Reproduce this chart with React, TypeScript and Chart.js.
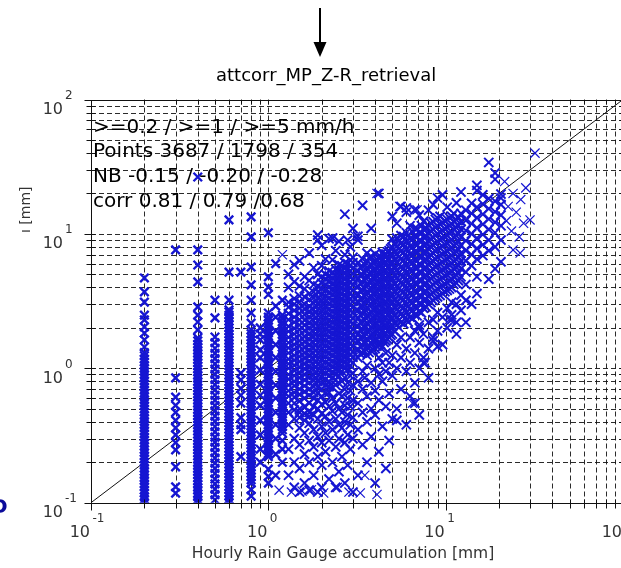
import React, { useEffect, useRef } from "react";
import { Chart, registerables } from "chart.js";
Chart.register(...registerables);

const CANVAS_W = 640;
const CANVAS_H = 568;

// ---- axis ticks ----
const decadeTicks = [0.1, 1, 10, 100];
const decadeExponents = ["-1", "0", "1", "2"];
const minorTicks = [0.2, 0.3, 0.4, 0.5, 0.6, 0.7, 0.8, 0.9, 2, 3, 4, 5, 6, 7, 8, 9, 20, 30, 40, 50, 60, 70, 80, 90];

// ---- texts ----
const titleText = "attcorr_MP_Z-R_retrieval";
const xTitle = "Hourly Rain Gauge accumulation [mm]";
const yTitle = "ı [mm]";
const statLines = [
  ">=0.2 / >=1 / >=5 mm/h",
  "Points 3687 / 1798 / 354",
  "NB -0.15 / -0.20 / -0.28",
  "corr 0.81 / 0.79 /0.68",
];
const sideLetter = "D";

// ---- 1:1 line ----
const diagX = [0.1, 100];
const diagY = [0.1, 100];

// ---- gauge columns (x = gauge value, y = radar values) ----
const gaugeX = [0.2, 0.3, 0.4, 0.5, 0.6, 0.7, 0.8, 0.9, 1.0, 1.1, 1.2];
const col02 = [0.1, 0.106, 0.111, 0.118, 0.124, 0.131, 0.138, 0.146, 0.153, 0.162, 0.171, 0.18, 0.19, 0.2, 0.212, 0.223, 0.236, 0.248, 0.262, 0.277, 0.292, 0.307, 0.325, 0.342, 0.361, 0.381, 0.402, 0.424, 0.447, 0.472, 0.498, 0.525, 0.554, 0.585, 0.617, 0.651, 0.687, 0.724, 0.764, 0.806, 0.851, 0.897, 0.947, 0.999, 1.05, 1.11, 1.17, 1.24, 1.31, 1.44, 1.63, 1.83, 2.03, 2.29, 2.49, 3.11, 3.7, 4.7];
const col03 = [0.118, 0.131, 0.185, 0.247, 0.28, 0.32, 0.36, 0.41, 0.47, 0.53, 0.61, 0.85, 7.6];
const col04 = [0.1, 0.105, 0.111, 0.117, 0.124, 0.13, 0.137, 0.145, 0.153, 0.161, 0.17, 0.179, 0.189, 0.199, 0.21, 0.222, 0.234, 0.247, 0.26, 0.274, 0.289, 0.305, 0.322, 0.34, 0.358, 0.378, 0.398, 0.42, 0.443, 0.467, 0.493, 0.52, 0.548, 0.578, 0.61, 0.643, 0.678, 0.716, 0.755, 0.796, 0.84, 0.886, 0.935, 0.986, 1.04, 1.1, 1.16, 1.22, 1.29, 1.36, 1.43, 1.51, 1.6, 1.68, 1.93, 2.21, 2.49, 2.86, 4.39, 5.87, 7.6, 26.5];
const col05 = [0.105, 0.115, 0.126, 0.138, 0.15, 0.165, 0.18, 0.197, 0.215, 0.236, 0.258, 0.282, 0.308, 0.337, 0.369, 0.403, 0.441, 0.482, 0.527, 0.577, 0.63, 0.69, 0.754, 0.825, 0.9, 0.985, 1.08, 1.18, 1.29, 1.41, 1.55, 1.71, 2.37, 3.22];
const col06 = [0.1, 0.106, 0.112, 0.118, 0.125, 0.132, 0.139, 0.147, 0.155, 0.164, 0.173, 0.183, 0.193, 0.204, 0.215, 0.227, 0.24, 0.253, 0.268, 0.283, 0.298, 0.315, 0.333, 0.351, 0.371, 0.392, 0.414, 0.437, 0.461, 0.487, 0.514, 0.543, 0.574, 0.606, 0.64, 0.676, 0.713, 0.753, 0.795, 0.84, 0.887, 0.937, 0.989, 1.045, 1.1, 1.165, 1.23, 1.3, 1.37, 1.45, 1.53, 1.61, 1.7, 1.8, 1.9, 2.0, 2.12, 2.24, 2.36, 2.49, 2.63, 2.72, 3.22, 5.2, 12.7];
const col07 = [0.22, 0.35, 0.38, 0.43, 0.55, 0.63, 0.71, 0.82, 0.92, 5.2];
const col08 = [0.112, 0.125, 0.14, 0.148, 0.156, 0.165, 0.174, 0.184, 0.194, 0.205, 0.216, 0.228, 0.241, 0.254, 0.269, 0.284, 0.3, 0.316, 0.334, 0.353, 0.372, 0.393, 0.415, 0.438, 0.463, 0.489, 0.516, 0.545, 0.575, 0.608, 0.642, 0.677, 0.715, 0.755, 0.798, 0.842, 0.89, 0.939, 0.992, 1.05, 1.11, 1.17, 1.23, 1.3, 1.37, 1.45, 1.53, 1.62, 1.71, 1.81, 1.93, 2.17, 2.58, 3.22, 4.17, 5.67, 9.5, 13.4];
const col09 = [0.2, 0.25, 0.32, 0.41, 0.53, 0.63, 0.76, 0.97, 1.2, 1.37, 1.63, 1.8, 2.0];
const col10 = [0.14, 0.157, 0.178, 0.22, 0.232, 0.245, 0.259, 0.273, 0.288, 0.304, 0.321, 0.339, 0.358, 0.378, 0.399, 0.421, 0.445, 0.47, 0.496, 0.524, 0.553, 0.584, 0.617, 0.651, 0.687, 0.726, 0.766, 0.809, 0.854, 0.902, 0.953, 1.01, 1.06, 1.12, 1.18, 1.25, 1.32, 1.39, 1.47, 1.55, 1.64, 1.73, 1.83, 1.93, 2.04, 2.15, 2.27, 2.4, 2.58, 3.54, 4.02, 4.79, 10.2];
const col11 = [0.16, 0.23, 0.3, 0.38, 0.47, 0.6, 0.75, 0.95, 1.2, 1.5, 1.9, 2.4, 2.9, 6.0];
const col12 = [0.2, 0.25, 0.29, 0.33, 0.349, 0.368, 0.389, 0.41, 0.433, 0.457, 0.483, 0.51, 0.538, 0.568, 0.6, 0.633, 0.669, 0.706, 0.746, 0.787, 0.831, 0.878, 0.927, 0.979, 1.03, 1.09, 1.15, 1.22, 1.28, 1.36, 1.43, 1.51, 1.6, 1.69, 1.78, 1.88, 1.98, 2.1, 2.21, 2.34, 2.49, 3.22];
const gaugeCols = [col02, col03, col04, col05, col06, col07, col08, col09, col10, col11, col12];

// ---- main cloud, rows of [gauge, radar values] ----
const cloudRowsLow: [number, number[]][] = [
  [1.3, [0.16, 0.25, 0.38, 0.47, 0.55, 0.62, 0.68, 0.75, 0.83, 0.9, 1.0, 1.08, 1.17, 1.3, 1.42, 1.55, 1.7, 1.88, 2.05, 2.3, 2.55, 2.85, 3.1, 4.0, 5.0]],
  [1.4, [0.13, 0.2, 0.3, 0.42, 0.49, 0.55, 0.61, 0.66, 0.74, 0.8, 0.88, 0.96, 1.05, 1.15, 1.25, 1.38, 1.5, 1.65, 1.8, 1.98, 2.2, 2.4, 2.7, 3.0, 3.3, 4.4, 5.9]],
  [1.5, [0.12, 0.18, 0.27, 0.36, 0.43, 0.47, 0.5, 0.57, 0.64, 0.7, 0.78, 0.85, 0.93, 1.02, 1.12, 1.22, 1.33, 1.46, 1.6, 1.76, 1.93, 2.1, 2.3, 2.55, 2.8, 3.1, 3.45, 4.1, 6.3]],
  [1.6, [0.14, 0.23, 0.33, 0.41, 0.46, 0.52, 0.6, 0.67, 0.74, 0.82, 0.9, 0.99, 1.08, 1.19, 1.3, 1.43, 1.57, 1.72, 1.9, 2.08, 2.28, 2.5, 2.75, 3.0, 3.4, 3.9, 4.8]],
  [1.7, [0.124, 0.2, 0.29, 0.39, 0.44, 0.47, 0.55, 0.63, 0.7, 0.78, 0.86, 0.95, 1.04, 1.14, 1.25, 1.37, 1.5, 1.65, 1.81, 2.0, 2.2, 2.42, 2.65, 2.9, 3.25, 3.6, 4.5, 7.2]],
  [1.8, [0.16, 0.26, 0.35, 0.45, 0.52, 0.6, 0.66, 0.73, 0.81, 0.89, 0.98, 1.07, 1.18, 1.3, 1.42, 1.56, 1.72, 1.88, 2.07, 2.27, 2.5, 2.75, 3.05, 3.35, 3.7, 4.2, 5.6]],
  [1.9, [0.12, 0.22, 0.31, 0.42, 0.5, 0.58, 0.65, 0.72, 0.8, 0.88, 0.97, 1.07, 1.17, 1.29, 1.41, 1.55, 1.7, 1.87, 2.05, 2.25, 2.48, 2.72, 3.0, 3.3, 3.7, 4.1, 5.0, 9.0, 9.8]],
  [2.0, [0.13, 0.19, 0.28, 0.37, 0.46, 0.54, 0.62, 0.7, 0.78, 0.86, 0.95, 1.04, 1.15, 1.26, 1.38, 1.52, 1.67, 1.83, 2.0, 2.2, 2.42, 2.66, 2.92, 3.2, 3.55, 3.9, 4.3, 4.8, 5.8, 8.2]],
  [2.1, [0.24, 0.33, 0.44, 0.56, 0.65, 0.75, 0.83, 0.92, 1.01, 1.11, 1.22, 1.34, 1.47, 1.62, 1.78, 1.95, 2.15, 2.36, 2.6, 2.85, 3.15, 3.45, 3.8, 4.2, 4.6, 5.0, 6.5]],
  [2.2, [0.15, 0.29, 0.4, 0.52, 0.66, 0.73, 0.8, 0.88, 0.97, 1.07, 1.17, 1.29, 1.42, 1.56, 1.71, 1.88, 2.07, 2.28, 2.5, 2.75, 3.02, 3.32, 3.65, 4.0, 4.4, 4.85, 5.3, 9.2]],
  [2.3, [0.2, 0.35, 0.48, 0.6, 0.72, 0.85, 0.94, 1.03, 1.13, 1.25, 1.37, 1.5, 1.65, 1.82, 2.0, 2.2, 2.42, 2.66, 2.92, 3.2, 3.52, 3.87, 4.25, 4.7, 5.15, 6.4, 9.3]],
  [2.4, [0.13, 0.26, 0.42, 0.55, 0.75, 0.82, 0.9, 0.99, 1.09, 1.2, 1.32, 1.45, 1.6, 1.76, 1.93, 2.12, 2.33, 2.56, 2.82, 3.1, 3.4, 3.75, 4.12, 4.5, 4.95, 5.45, 7.5]],
  [2.5, [0.17, 0.3, 0.38, 0.5, 0.65, 0.88, 0.97, 1.07, 1.17, 1.29, 1.42, 1.56, 1.72, 1.89, 2.08, 2.29, 2.52, 2.77, 3.05, 3.35, 3.7, 4.05, 4.45, 4.9, 5.4, 5.9, 8.8]],
  [2.6, [0.22, 0.36, 0.47, 0.62, 0.8, 0.95, 1.05, 1.15, 1.27, 1.4, 1.54, 1.69, 1.86, 2.05, 2.25, 2.48, 2.72, 3.0, 3.3, 3.62, 3.98, 4.38, 4.82, 5.3, 5.8]],
  [2.7, [0.14, 0.28, 0.4, 0.53, 0.7, 0.85, 1.0, 1.1, 1.21, 1.33, 1.46, 1.61, 1.77, 1.95, 2.14, 2.35, 2.59, 2.85, 3.13, 3.45, 3.8, 4.18, 4.6, 5.05, 5.55, 6.1, 7.0, 14.0]],
  [2.8, [0.19, 0.32, 0.45, 0.6, 0.78, 0.98, 1.08, 1.19, 1.31, 1.44, 1.58, 1.74, 1.91, 2.1, 2.31, 2.54, 2.8, 3.08, 3.38, 3.72, 4.1, 4.5, 4.95, 5.45, 6.0, 9.0]],
  [2.9, [0.25, 0.38, 0.52, 0.68, 0.88, 1.05, 1.15, 1.27, 1.4, 1.54, 1.69, 1.86, 2.05, 2.25, 2.48, 2.73, 3.0, 3.3, 3.63, 4.0, 4.4, 4.84, 5.3, 5.85, 6.4, 8.0]],
  [3.0, [0.12, 0.3, 0.43, 0.58, 0.75, 0.92, 1.1, 1.21, 1.33, 1.46, 1.61, 1.77, 1.95, 2.14, 2.35, 2.6, 2.85, 3.14, 3.45, 3.8, 4.18, 4.6, 5.05, 5.56, 6.1, 6.7, 11.0]],
];
const cloudRowsMid: [number, number[]][] = [
  [3.2, [0.16, 0.35, 0.55, 0.8, 1.2, 1.38, 1.58, 1.8, 2.05, 2.35, 2.7, 3.1, 3.55, 4.05, 4.65, 5.3, 6.1, 9.0, 9.6]],
  [3.3, [1.28, 1.46, 1.69, 1.93, 2.21, 2.5, 2.9, 3.28, 3.79, 4.3, 4.97, 5.66]],
  [3.4, [0.27, 0.47, 0.7, 0.95, 1.3, 1.48, 1.7, 1.95, 2.22, 2.55, 2.9, 3.3, 3.8, 4.35, 4.95, 5.7, 6.5, 16.3]],
  [3.5, [0.85, 1.33, 1.53, 1.73, 2.0, 2.27, 2.62, 2.98, 3.43, 3.9, 4.5, 5.12, 5.9]],
  [3.6, [0.2, 0.4, 0.62, 1.05, 1.25, 1.43, 1.64, 1.88, 2.15, 2.45, 2.8, 3.2, 3.65, 4.2, 4.8, 5.5, 6.3, 7.2]],
  [3.7, [1.31, 1.48, 1.71, 1.94, 2.24, 2.55, 2.94, 3.35, 3.86, 4.4, 5.06, 5.77, 6.62]],
  [3.8, [0.31, 0.5, 0.78, 1.35, 1.55, 1.77, 2.03, 2.32, 2.65, 3.03, 3.47, 3.97, 4.55, 5.2, 5.95, 6.8, 11.0]],
  [3.9, [1.37, 1.59, 1.8, 2.08, 2.36, 2.73, 3.1, 3.57, 4.07, 4.68, 5.34, 6.13]],
  [4.0, [0.14, 0.45, 0.68, 1.0, 1.4, 1.6, 1.83, 2.1, 2.4, 2.75, 3.15, 3.6, 4.1, 4.7, 5.4, 6.2, 7.1]],
  [4.1, [1.46, 1.65, 1.91, 2.17, 2.51, 2.85, 3.29, 3.74, 4.31, 4.91, 5.65, 6.44]],
  [4.2, [0.24, 0.58, 0.9, 1.2, 1.5, 1.72, 1.96, 2.25, 2.57, 2.94, 3.37, 3.85, 4.4, 5.05, 5.8, 6.6, 20.0]],
  [4.3, [1.51, 1.75, 1.98, 2.29, 2.6, 3.0, 3.42, 3.94, 4.49, 5.16, 5.89, 6.76]],
  [4.4, [0.37, 0.8, 1.1, 1.45, 1.66, 1.9, 2.17, 2.48, 2.84, 3.25, 3.72, 4.26, 4.87, 5.57, 6.38, 7.3]],
  [4.5, [1.56, 1.77, 2.05, 2.32, 2.68, 3.05, 3.51, 4.0, 4.6, 5.25, 6.03, 6.89]],
  [4.6, [0.18, 0.52, 0.95, 1.3, 1.6, 1.83, 2.1, 2.4, 2.75, 3.15, 3.6, 4.12, 4.72, 5.4, 6.18, 7.07]],
  [4.7, [1.64, 1.9, 2.15, 2.49, 2.83, 3.26, 3.71, 4.27, 4.87, 5.6, 6.39, 7.34]],
  [4.8, [0.29, 0.65, 1.1, 1.7, 1.95, 2.23, 2.55, 2.92, 3.34, 3.82, 4.37, 5.0, 5.72, 6.55, 7.5]],
  [4.9, [1.76, 1.99, 2.3, 2.62, 3.02, 3.43, 3.95, 4.51, 5.18, 5.91, 6.79, 7.75]],
  [5.0, [0.42, 0.88, 1.25, 1.8, 2.06, 2.36, 2.7, 3.09, 3.54, 4.05, 4.63, 5.3, 6.07, 6.95, 7.95, 9.1, 13.5]],
  [5.15, [1.89, 2.19, 2.49, 2.87, 3.26, 3.76, 4.28, 4.92, 5.61, 6.45, 7.36, 8.45]],
  [5.3, [0.41, 0.5, 1.0, 1.5, 2.1, 2.4, 2.75, 3.15, 3.6, 4.1, 4.7, 5.4, 6.2, 7.1, 8.1, 9.3, 12.0]],
  [5.45, [2.01, 2.28, 2.63, 2.99, 3.45, 3.93, 4.52, 5.15, 5.92, 6.76, 7.76, 8.86]],
  [5.6, [0.7, 1.2, 1.7, 2.2, 2.52, 2.88, 3.3, 3.78, 4.32, 4.95, 5.67, 6.5, 7.44, 8.5, 9.7, 16.0]],
  [5.8, [2.14, 2.47, 2.81, 3.24, 3.68, 4.24, 4.83, 5.55, 6.34, 7.28, 8.31, 9.54]],
  [6.0, [0.38, 0.95, 1.4, 2.3, 2.63, 3.01, 3.45, 3.95, 4.52, 5.17, 5.92, 6.78, 7.76, 8.9, 10.2, 14.5, 15.6]],
  [6.15, [2.21, 2.51, 2.89, 3.29, 3.79, 4.32, 4.97, 5.67, 6.51, 7.43, 8.53, 9.75]],
  [6.3, [0.62, 1.1, 1.7, 2.4, 2.75, 3.15, 3.6, 4.12, 4.72, 5.4, 6.18, 7.07, 8.1, 9.27, 11.5]],
  [6.5, [2.34, 2.7, 3.07, 3.54, 4.03, 4.64, 5.29, 6.08, 6.94, 7.97, 9.1, 10.4]],
  [6.7, [0.55, 0.78, 1.3, 1.9, 2.5, 2.86, 3.27, 3.75, 4.29, 4.91, 5.62, 6.44, 7.37, 8.44, 9.66, 11.0, 15.1]],
  [6.9, [2.46, 2.8, 3.22, 3.67, 4.22, 4.81, 5.53, 6.31, 7.25, 8.28, 9.5, 10.9]],
  [7.1, [0.45, 1.0, 1.55, 2.0, 2.1, 2.65, 3.03, 3.47, 3.97, 4.55, 5.21, 5.96, 6.82, 7.81, 8.94, 10.2, 13.8]],
  [7.3, [2.59, 2.99, 3.4, 3.91, 4.46, 5.13, 5.85, 6.72, 7.67, 8.8, 10.1, 11.5]],
  [7.5, [1.1, 1.2, 1.8, 2.8, 3.2, 3.67, 4.2, 4.8, 5.5, 6.3, 7.2, 8.25, 9.45, 10.8, 12.4]],
  [7.75, [2.86, 3.25, 3.74, 4.27, 4.91, 5.6, 6.43, 7.34, 8.43, 9.63, 11.0]],
  [8.0, [0.85, 1.4, 2.2, 3.0, 3.43, 3.93, 4.5, 5.15, 5.9, 6.75, 7.72, 8.84, 10.1, 11.6, 15.0]],
];
const cloudRowsHigh: [number, number[]][] = [
  [8.25, [3.09, 3.56, 4.05, 4.66, 5.32, 6.11, 6.97, 8.0, 9.14, 10.5, 12.0]],
  [8.5, [1.6, 1.7, 2.3, 3.2, 3.66, 4.19, 4.8, 5.49, 6.28, 7.19, 8.23, 9.42, 10.8, 12.3, 16.5]],
  [8.75, [3.31, 3.77, 4.34, 4.94, 5.68, 6.48, 7.44, 8.5, 9.75, 11.2, 12.8]],
  [9.0, [1.45, 1.9, 2.6, 3.4, 3.89, 4.45, 5.1, 5.83, 6.68, 7.64, 8.75, 10.0, 11.5, 13.1, 18.5]],
  [9.3, [3.49, 4.02, 4.58, 5.26, 6.0, 6.9, 7.87, 9.04, 10.3, 11.8, 13.5]],
  [9.6, [1.5, 2.4, 3.6, 4.12, 4.72, 5.4, 6.18, 7.07, 8.1, 9.27, 10.6, 12.1, 19.5]],
  [9.9, [3.71, 4.23, 4.86, 5.54, 6.37, 7.27, 8.35, 9.53, 10.9, 12.5]],
  [10.2, [2.0, 2.8, 3.8, 4.35, 4.98, 5.7, 6.52, 7.46, 8.54, 9.78, 11.2, 12.8, 15.8]],
  [10.5, [3.89, 4.48, 5.1, 5.86, 6.69, 7.68, 8.77, 10.1, 11.5, 13.2]],
  [10.8, [2.3, 2.5, 3.1, 4.0, 4.58, 5.24, 6.0, 6.87, 7.86, 9.0, 10.3, 11.8, 13.5]],
  [11.1, [4.21, 4.8, 5.51, 6.29, 7.22, 8.25, 9.46, 10.8, 12.4, 14.2]],
  [11.5, [1.8, 2.2, 3.0, 4.3, 4.92, 5.63, 6.45, 7.38, 8.45, 9.67, 11.1, 12.7, 17.0]],
  [11.8, [4.49, 5.16, 5.89, 6.76, 7.72, 8.86, 10.1, 11.6, 13.3]],
  [12.2, [2.7, 3.5, 4.8, 5.5, 6.3, 7.2, 8.25, 9.44, 10.8, 12.4, 14.2, 20.5]],
  [13.0, [2.2, 3.2, 4.2, 5.2, 6.3, 7.5, 8.9, 10.6, 12.6, 15.0]],
  [14.0, [3.0, 5.8, 7.0, 8.4, 10.0, 11.9, 14.2, 16.9]],
  [15.0, [3.6, 4.8, 6.5, 7.8, 9.3, 11.1, 13.2, 15.8, 21.0, 23.0]],
  [16.2, [6.9, 8.3, 9.9, 11.8, 14.0, 16.7, 19.5]],
  [17.5, [4.6, 7.5, 9.0, 10.8, 12.9, 15.4, 18.3, 34.0]],
  [19.0, [5.5, 8.0, 10.2, 12.2, 14.6, 17.5, 25.5, 28.4]],
  [20.5, [6.2, 9.0, 11.5, 13.8, 16.5, 18.5, 19.8]],
];
const cloudOutliers: [number, number][] = [
  [1.2, 7.0], [2.3, 9.3], [3.1, 9.6], [4.1, 20.0], [5.5, 16.0], [6.9, 15.1],
  [22.0, 12.5], [22.5, 16.0], [23.5, 10.5], [24.0, 20.0], [25.0, 14.5], [26.5, 18.0],
  [27.5, 12.0], [21.5, 24.5], [26.0, 9.5], [28.3, 22.0], [29.9, 12.7], [26.3, 7.2],
  [24.0, 7.6], [31.9, 39.9], [10.5, 2.3], [7.7, 1.1], [6.5, 0.55],
  [1.15, 0.124], [1.35, 0.12], [1.55, 0.122], [1.75, 0.125], [2.05, 0.118],
  [2.45, 0.13], [2.85, 0.12], [3.5, 0.16], [4.1, 0.115], [3.3, 0.118],
];

const BLUE = "rgb(22,22,210)";

const decorPlugin = {
  id: "decor",
  beforeDatasetsDraw(chart: any) {
    const { ctx, chartArea: a, scales } = chart;
    const xs = scales.x;
    const ys = scales.y;
    ctx.save();
    ctx.strokeStyle = "rgba(20,20,20,0.9)";
    ctx.lineWidth = 1;
    ctx.setLineDash([5, 3]);
    const all = [...minorTicks, ...decadeTicks];
    for (const v of all) {
      const px = Math.round(xs.getPixelForValue(v)) + 0.5;
      if (px > a.left + 1 && px < a.right - 1) {
        ctx.beginPath();
        ctx.moveTo(px, a.top);
        ctx.lineTo(px, a.bottom);
        ctx.stroke();
      }
      const py = Math.round(ys.getPixelForValue(v)) + 0.5;
      if (py > a.top + 1 && py < a.bottom - 1) {
        ctx.beginPath();
        ctx.moveTo(a.left, py);
        ctx.lineTo(a.right, py);
        ctx.stroke();
      }
    }
    ctx.restore();
  },
  afterDatasetsDraw(chart: any) {
    const { ctx, chartArea: a, scales } = chart;
    const xs = scales.x;
    const ys = scales.y;
    ctx.save();
    ctx.setLineDash([]);
    ctx.strokeStyle = "#111";
    ctx.lineWidth = 1;
    const L = Math.round(a.left) + 0.5;
    const R = Math.round(a.right) + 0.5;
    const T = Math.round(a.top) + 0.5;
    const B = Math.round(a.bottom) + 0.5;
    ctx.strokeRect(L, T, R - L, B - T);
    const drawTicks = (vals: number[], major: boolean) => {
      for (const v of vals) {
        const px = Math.round(xs.getPixelForValue(v)) + 0.5;
        const py = Math.round(ys.getPixelForValue(v)) + 0.5;
        const out = major ? 7 : 5;
        ctx.beginPath();
        ctx.moveTo(px, B - 4);
        ctx.lineTo(px, B + out);
        ctx.moveTo(px, T);
        ctx.lineTo(px, T + 4);
        ctx.moveTo(L - out, py);
        ctx.lineTo(L + 4, py);
        ctx.moveTo(R - 4, py);
        ctx.lineTo(R, py);
        ctx.stroke();
      }
    };
    drawTicks(minorTicks, false);
    drawTicks(decadeTicks, true);

    ctx.fillStyle = "#333";
    decadeTicks.forEach((v, i) => {
      const px = xs.getPixelForValue(v);
      const py = ys.getPixelForValue(v);
      ctx.textBaseline = "alphabetic";
      ctx.font = '16px "DejaVu Sans"';
      ctx.textAlign = "right";
      ctx.fillText("10", px - 1, 537);
      ctx.fillText("10", 63, py + 14.5);
      ctx.font = '12px "DejaVu Sans"';
      ctx.textAlign = "left";
      ctx.fillText(decadeExponents[i], px + 1.5, 521.5);
      ctx.fillText(decadeExponents[i], 65, py - 0.5);
    });

    ctx.fillStyle = "#333";
    ctx.font = '15.5px "DejaVu Sans"';
    ctx.textAlign = "center";
    ctx.fillText(xTitle, 343, 558);
    ctx.save();
    ctx.translate(30, 233);
    ctx.rotate(-Math.PI / 2);
    ctx.textAlign = "left";
    ctx.font = '14px "DejaVu Sans"';
    ctx.fillText(yTitle, 0, 0);
    ctx.restore();

    ctx.fillStyle = "#000";
    ctx.font = '18px "DejaVu Sans"';
    ctx.textAlign = "left";
    ctx.fillText(titleText, 216, 81);
    ctx.strokeStyle = "#000";
    ctx.lineWidth = 2;
    ctx.beginPath();
    ctx.moveTo(320, 8);
    ctx.lineTo(320, 45);
    ctx.stroke();
    ctx.beginPath();
    ctx.moveTo(313.5, 42);
    ctx.lineTo(326.5, 42);
    ctx.lineTo(320, 57);
    ctx.closePath();
    ctx.fill();

    ctx.font = '20px "DejaVu Sans"';
    ctx.fillStyle = "#000";
    const baselines = [133, 157, 182, 207];
    statLines.forEach((s, i) => ctx.fillText(s, 93, baselines[i]));

    ctx.fillStyle = "#0b0b9a";
    ctx.font = 'bold 20px "DejaVu Sans"';
    ctx.fillText(sideLetter, -9, 513);
    ctx.restore();
  },
};

export default function App() {
  const ref = useRef<HTMLCanvasElement | null>(null);
  useEffect(() => {
    if (!ref.current) return;
    const dense: { x: number; y: number }[] = [];
    gaugeCols.forEach((col, i) => col.forEach((y) => dense.push({ x: gaugeX[i], y })));
    const cloud: { x: number; y: number }[] = [];
    [...cloudRowsLow, ...cloudRowsMid, ...cloudRowsHigh].forEach(([x, ys]) =>
      ys.forEach((y) => cloud.push({ x, y }))
    );
    const sparse = cloudOutliers.map(([x, y]) => ({ x, y }));
    const diag = diagX.map((x, i) => ({ x, y: diagY[i] }));

    const pointDs = (data: any[], width: number, radius: number, order: number) => ({
      data,
      pointStyle: "crossRot",
      pointRadius: radius,
      borderColor: BLUE,
      pointBorderColor: BLUE,
      backgroundColor: "transparent",
      pointBorderWidth: width,
      borderWidth: width,
      order,
      clip: 0,
    });

    const chart = new Chart(ref.current, {
      type: "scatter",
      data: {
        datasets: [
          {
            type: "line",
            data: diag,
            borderColor: "#111",
            borderWidth: 1,
            pointRadius: 0,
            fill: false,
            order: 4,
            clip: 0,
          } as any,
          pointDs(dense, 2.4, 6, 1),
          pointDs(cloud, 2.0, 6.5, 2),
          pointDs(sparse, 1.2, 6.5, 3),
        ],
      },
      options: {
        responsive: false,
        animation: false,
        devicePixelRatio: 1,
        events: [],
        layout: { padding: { left: 0, right: CANVAS_W - 623, top: 99.5, bottom: 0 } },
        plugins: { legend: { display: false }, tooltip: { enabled: false } },
        scales: {
          x: {
            type: "logarithmic",
            min: 0.1,
            max: 100,
            ticks: { display: false },
            grid: { display: false },
            border: { display: false },
            afterFit: (s: any) => {
              s.height = CANVAS_H - 502.7;
            },
          },
          y: {
            type: "logarithmic",
            min: 0.1,
            max: 100,
            ticks: { display: false },
            grid: { display: false },
            border: { display: false },
            afterFit: (s: any) => {
              s.width = 91;
            },
          },
        },
      },
      plugins: [decorPlugin],
    } as any);
    return () => chart.destroy();
  }, []);

  return (
    <div
      style={{
        position: "fixed",
        left: 0,
        top: 0,
        width: 621,
        height: 568,
        overflow: "hidden",
        background: "#fff",
      }}
    >
      <canvas ref={ref} width={CANVAS_W} height={CANVAS_H} style={{ display: "block", width: CANVAS_W, height: CANVAS_H }} />
    </div>
  );
}
